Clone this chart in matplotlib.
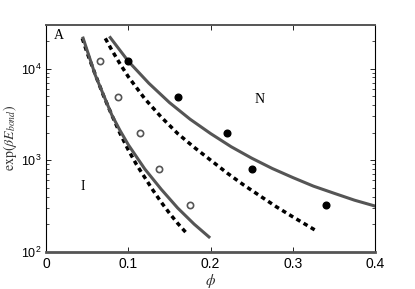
import matplotlib
matplotlib.use("Agg")
import matplotlib.pyplot as plt

# data
phi_open = [0.066, 0.088, 0.114, 0.137, 0.175]
phi_filled = [0.100, 0.160, 0.220, 0.250, 0.340]
eb_points = [12100, 4900, 2000, 800, 320]

# left solid (grey) curve
left_solid_x = [0.045, 0.06, 0.07, 0.08, 0.09, 0.10, 0.12, 0.14, 0.16, 0.18, 0.198]
left_solid_y = [21500, 8400, 5100, 3100, 2100, 1470, 800, 480, 300, 200, 145]

# left dotted (black) curve
left_dot_x = [0.044, 0.05, 0.06, 0.07, 0.08, 0.09, 0.10, 0.11, 0.12, 0.13, 0.14, 0.15, 0.16, 0.17]
left_dot_y = [21380, 14790, 8510, 5010, 3090, 1950, 1290, 891, 646, 468, 347, 263, 204, 162]

# right solid (grey) curve
right_solid_x = [0.078, 0.10, 0.125, 0.15, 0.175, 0.20, 0.225, 0.25, 0.275, 0.30, 0.325, 0.35, 0.375, 0.40]
right_solid_y = [21800, 12000, 6900, 4250, 2800, 1950, 1400, 1050, 810, 645, 520, 435, 365, 315]

# right dotted (black) curve
right_dot_x = [0.072, 0.08, 0.09, 0.10, 0.12, 0.14, 0.16, 0.18, 0.20, 0.22, 0.24, 0.26, 0.28, 0.30, 0.33]
right_dot_y = [21380, 15850, 11220, 8130, 4680, 2950, 1950, 1380, 1000, 724, 537, 407, 309, 240, 166]

xticks = [0, 0.1, 0.2, 0.3, 0.4]
xticklabels = ["0", "0.1", "0.2", "0.3", "0.4"]

plt.rcParams["font.family"] = ["Liberation Sans", "DejaVu Sans"]
plt.rcParams["mathtext.fontset"] = "custom"
plt.rcParams["mathtext.rm"] = "Liberation Sans"
plt.rcParams["mathtext.it"] = "Liberation Sans:italic"

fig = plt.figure(figsize=(4.15, 2.89), dpi=100)
ax = fig.add_axes([0.111, 0.129, 0.793, 0.785])

grey = "#555555"
ax.plot(left_dot_x, left_dot_y, color="black", lw=2.5, linestyle=(0, (1.3, 1.1)))
ax.plot(right_dot_x, right_dot_y, color="black", lw=2.5, linestyle=(0, (1.3, 1.1)))
ax.plot(left_solid_x, left_solid_y, color=grey, lw=2.2)
ax.plot(right_solid_x, right_solid_y, color=grey, lw=2.2)

ax.plot(phi_open, eb_points, "o", ms=4.5, mfc="white", mec=grey, mew=1.2, ls="none")
ax.plot(phi_filled, eb_points, "o", ms=4.8, mfc="black", mec="black", ls="none")

ax.set_yscale("log")
ax.set_xlim(0, 0.4)
ax.set_ylim(100, 30000)
ax.set_xticks(xticks)
ax.set_xticklabels(xticklabels)
ax.tick_params(which="both", direction="in", top=True, right=True)
ax.tick_params(axis="x", labelsize=10)
ax.tick_params(axis="y", labelsize=9, pad=3)
ax.tick_params(which="major", length=3.5, width=0.6)
ax.tick_params(which="minor", length=2, width=0.5)

for side in ["left", "right"]:
    ax.spines[side].set_linewidth(0.8)
    ax.spines[side].set_color("black")
ax.spines["bottom"].set_color(grey)
ax.spines["bottom"].set_linewidth(2.0)
ax.spines["top"].set_color(grey)
ax.spines["top"].set_linewidth(1.4)

ax.set_xlabel(r"$\phi$", fontsize=11, color="#333333", math_fontfamily="stix", labelpad=1)
ax.set_ylabel(r"$\exp(\beta E_{bond})$", fontsize=10, color="#333333", math_fontfamily="stix")
ax.yaxis.set_label_coords(-0.082, 0.5)

ax.text(0.025, 0.955, "A", transform=ax.transAxes, fontsize=10, family="Liberation Serif", va="center")
ax.text(0.045, 510, "I", fontsize=10, family="Liberation Serif", ha="center", va="center")
ax.text(0.26, 4600, "N", fontsize=10, family="Liberation Serif", ha="center", va="center")

fig.savefig("out.png", dpi=100)
